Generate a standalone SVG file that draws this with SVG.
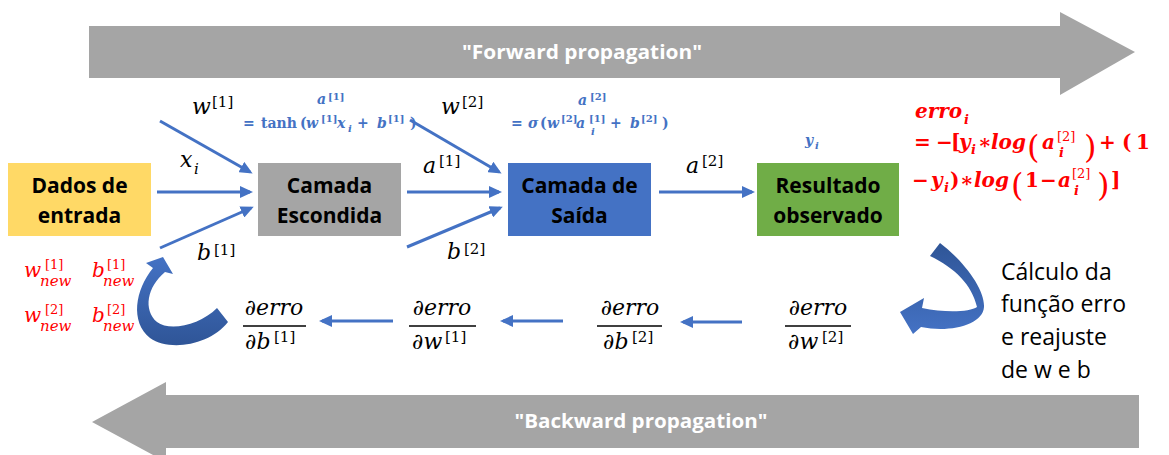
<svg xmlns="http://www.w3.org/2000/svg" width="1169" height="455" viewBox="0 0 1169 455">
<style>
.bl{font-family:"Open Sans","Noto Sans",sans-serif;font-weight:bold;font-size:21px;fill:#000;text-anchor:middle}
.big{font-family:"Open Sans","Noto Sans",sans-serif;font-weight:bold;font-size:20px;fill:#fff;text-anchor:middle}
.m{font-family:"DejaVu Serif",serif;font-style:italic;font-size:22px;fill:#000}
.s{font-family:"DejaVu Serif",serif;font-size:15px;fill:#000}
.bm{font-family:"DejaVu Serif",serif;font-style:italic;font-weight:bold;font-size:14px;fill:#4472C4}
.bu{font-family:"DejaVu Serif",serif;font-weight:bold;font-size:14px;fill:#4472C4}
.bs{font-family:"DejaVu Serif",serif;font-weight:bold;font-size:10px;fill:#4472C4}
.bsi{font-family:"DejaVu Serif",serif;font-style:italic;font-weight:bold;font-size:10px;fill:#4472C4}
.rm{font-family:"DejaVu Serif",serif;font-style:italic;font-weight:bold;font-size:20px;fill:#FF0000}
.ru{font-family:"DejaVu Serif",serif;font-weight:bold;font-size:20px;fill:#FF0000}
.rp{font-family:"DejaVu Serif",serif;font-size:32px;fill:#FF0000}
.rs{font-family:"DejaVu Serif",serif;font-size:13px;fill:#FF0000}
.rsi{font-family:"DejaVu Serif",serif;font-style:italic;font-weight:bold;font-size:13px;fill:#FF0000}
.nw{font-family:"DejaVu Serif",serif;font-style:italic;font-size:20px;fill:#FF0000}
.ns{font-family:"DejaVu Serif",serif;font-size:13px;fill:#FF0000}
.nsi{font-family:"DejaVu Serif",serif;font-style:italic;font-size:15px;fill:#FF0000}
.side{font-family:"Open Sans","Noto Sans",sans-serif;font-size:23px;fill:#000}
.con{stroke:#4472C4;stroke-width:3;fill:none;marker-end:url(#ah)}
.frac{stroke:#000;stroke-width:1.5}
</style>
<defs>
<marker id="ah" markerUnits="userSpaceOnUse" markerWidth="13" markerHeight="12" refX="10" refY="6" orient="auto">
<path d="M0,0 L13,6 L0,12 Z" fill="#4472C4"/>
</marker>
<linearGradient id="gr" x1="0" y1="0" x2="0" y2="1">
<stop offset="0" stop-color="#2F5597"/><stop offset="1" stop-color="#4472C4"/>
</linearGradient>
<linearGradient id="gl" x1="0" y1="1" x2="0" y2="0">
<stop offset="0" stop-color="#2F5597"/><stop offset="1" stop-color="#4472C4"/>
</linearGradient>
</defs>
<rect width="1169" height="455" fill="#fff"/>

<g id="forward">
<path d="M89,26 L1060,26 L1060,12 L1135,52 L1060,95 L1060,78 L89,78 Z" fill="#A5A5A5"/>
<text class="big" x="582" y="59" textLength="240" lengthAdjust="spacingAndGlyphs">"Forward propagation"</text>
</g>
<g id="backward">
<path d="M1139,395 L166,395 L166,382 L92,422 L166,462 L166,448 L1139,448 Z" fill="#A5A5A5"/>
<text class="big" x="641" y="428" textLength="253" lengthAdjust="spacingAndGlyphs">"Backward propagation"</text>
</g>

<g id="dados">
<rect x="8" y="163" width="143" height="73" fill="#FFD966"/>
<text class="bl" x="79.5" y="193">Dados de</text>
<text class="bl" x="79.5" y="223">entrada</text>
</g>
<g id="escondida">
<rect x="258" y="163" width="143" height="73" fill="#A5A5A5"/>
<text class="bl" x="329.5" y="193">Camada</text>
<text class="bl" x="329.5" y="223">Escondida</text>
</g>
<g id="saida">
<rect x="508" y="163" width="143" height="73" fill="#4472C4"/>
<text class="bl" x="579.5" y="193">Camada de</text>
<text class="bl" x="579.5" y="223">Saída</text>
</g>
<g id="resultado">
<rect x="757" y="163" width="142" height="73" fill="#70AD47"/>
<text class="bl" x="828" y="193">Resultado</text>
<text class="bl" x="828" y="223">observado</text>
</g>

<g id="connectors">
<line class="con" x1="160" y1="121" x2="250" y2="172"/>
<line class="con" x1="157" y1="192" x2="250" y2="192"/>
<line class="con" x1="160" y1="248" x2="251" y2="208"/>
<line class="con" x1="410" y1="120" x2="499" y2="172"/>
<line class="con" x1="407" y1="192" x2="499" y2="192"/>
<line class="con" x1="407" y1="247" x2="500" y2="208"/>
<line class="con" x1="659" y1="192" x2="752" y2="192"/>
<line class="con" x1="393" y1="321" x2="322" y2="321"/>
<line class="con" x1="563" y1="321" x2="503" y2="321"/>
<line class="con" x1="742" y1="322" x2="683" y2="322"/>
<path d="M940,243 C965,262 985,290 984,307 C983,325 950,333 921,327 L913,334 L900,312 L924,298 L922,308 C945,313 970,312 977,307 C972,285 955,268 930,256 Z" fill="url(#gr)"/>
<path d="M228,322 L217,308 C200,325 170,332 157,322 C143,310 147,287 165,272 L173,274 L163,257 L146,263 L153,268 C135,290 130,322 150,338 C170,352 210,345 228,322 Z" fill="url(#gl)"/>
</g>

<g id="labels">
<text class="m" x="192" y="114">w</text><text class="s" x="212" y="107">[1]</text>
<text class="m" x="180" y="167">x</text><text class="s" x="194" y="174" font-style="italic">i</text>
<text class="m" x="197" y="260">b</text><text class="s" x="214" y="255">[1]</text>
<text class="m" x="441" y="114">w</text><text class="s" x="462" y="107">[2]</text>
<text class="m" x="423" y="173">a</text><text class="s" x="439" y="166">[1]</text>
<text class="m" x="447" y="259">b</text><text class="s" x="464" y="254">[2]</text>
<text class="m" x="686" y="173">a</text><text class="s" x="702" y="166">[2]</text>
</g>

<g id="formula1">
<text class="bm" x="317" y="104">a</text><text class="bs" x="328" y="100">[1]</text>
<text class="bu" x="243" y="128">=</text>
<text class="bu" x="261" y="128">tanh</text>
<text class="bu" x="300" y="128">(</text>
<text class="bm" x="306" y="128">w</text><text class="bs" x="321" y="122">[1]</text>
<text class="bm" x="337" y="128">x</text><text class="bsi" x="348" y="132">i</text>
<text class="bu" x="357" y="128">+</text>
<text class="bm" x="377" y="128">b</text><text class="bs" x="388" y="122">[1]</text>
<text class="bu" x="410" y="128">)</text>
</g>
<g id="formula2">
<text class="bm" x="578" y="105">a</text><text class="bs" x="590" y="100">[2]</text>
<text class="bu" x="511" y="128">=</text>
<text class="bm" x="528" y="128">σ</text>
<text class="bu" x="540" y="128">(</text>
<text class="bm" x="547" y="128">w</text><text class="bs" x="561" y="122">[2]</text>
<text class="bm" x="576" y="128">a</text><text class="bs" x="589" y="122">[1]</text><text class="bsi" x="591" y="135">i</text>
<text class="bu" x="610" y="128">+</text>
<text class="bm" x="630" y="128">b</text><text class="bs" x="641" y="122">[2]</text>
<text class="bu" x="662" y="128">)</text>
</g>
<g id="yi">
<text class="bm" x="805" y="145">y</text><text class="bsi" x="815" y="149">i</text>
</g>

<g id="erro">
<text class="rm" x="915" y="118">erro</text><text class="rsi" x="964" y="124">i</text>
<text class="ru" x="914" y="149">=</text>
<text class="ru" x="936" y="149">−</text>
<text class="ru" x="951" y="149">[</text>
<text class="rm" x="959" y="149">y</text><text class="rsi" x="971" y="154">i</text>
<text class="ru" x="978" y="149">∗</text>
<text class="rm" x="991" y="149">log</text>
<text class="rp" x="1027" y="158">(</text>
<text class="rm" x="1042" y="149">a</text><text class="rs" x="1057" y="141">[2]</text><text class="rsi" x="1059" y="157">i</text>
<text class="rp" x="1084" y="158">)</text>
<text class="ru" x="1099" y="149">+</text>
<text class="ru" x="1122" y="149">(</text>
<text class="ru" x="1136" y="149">1</text>
<text class="ru" x="912" y="187">−</text>
<text class="rm" x="931" y="187">y</text><text class="rsi" x="944" y="192">i</text>
<text class="ru" x="950" y="187">)</text>
<text class="ru" x="960" y="187">∗</text>
<text class="rm" x="974" y="187">log</text>
<text class="rp" x="1011" y="196">(</text>
<text class="ru" x="1025" y="187">1</text>
<text class="ru" x="1040" y="187">−</text>
<text class="rm" x="1058" y="187">a</text><text class="rs" x="1072" y="178">[2]</text><text class="rsi" x="1074" y="195">i</text>
<text class="rp" x="1097" y="196">)</text>
<text class="ru" x="1111" y="187">]</text>
</g>

<g id="wnew">
<text class="nw" x="24" y="277">w</text><text class="ns" x="45" y="269">[1]</text><text class="nsi" x="40" y="286">new</text>
<text class="nw" x="92" y="277">b</text><text class="ns" x="107" y="269">[1]</text><text class="nsi" x="103" y="286">new</text>
<text class="nw" x="24" y="322">w</text><text class="ns" x="45" y="314">[2]</text><text class="nsi" x="40" y="331">new</text>
<text class="nw" x="92" y="322">b</text><text class="ns" x="107" y="314">[2]</text><text class="nsi" x="103" y="331">new</text>
</g>

<g id="d1">
<text class="m" x="274" y="315" text-anchor="middle">∂erro</text>
<line class="frac" x1="243" y1="326" x2="306" y2="326"/>
<text class="m" x="245" y="349">∂b</text><text class="s" x="274" y="342">[1]</text>
</g>
<g id="d2">
<text class="m" x="442" y="315" text-anchor="middle">∂erro</text>
<line class="frac" x1="409" y1="326" x2="476" y2="326"/>
<text class="m" x="412" y="349">∂w</text><text class="s" x="445" y="342">[1]</text>
</g>
<g id="d3">
<text class="m" x="630" y="315" text-anchor="middle">∂erro</text>
<line class="frac" x1="597" y1="326" x2="662" y2="326"/>
<text class="m" x="603" y="349">∂b</text><text class="s" x="632" y="342">[2]</text>
</g>
<g id="d4">
<text class="m" x="818" y="315" text-anchor="middle">∂erro</text>
<line class="frac" x1="785" y1="326" x2="851" y2="326"/>
<text class="m" x="788" y="349">∂w</text><text class="s" x="822" y="342">[2]</text>
</g>

<g id="calc">
<text class="side" x="1001" y="280">Cálculo da</text>
<text class="side" x="1001" y="312">função erro</text>
<text class="side" x="1001" y="345">e reajuste</text>
<text class="side" x="1001" y="378">de w e b</text>
</g>
</svg>
